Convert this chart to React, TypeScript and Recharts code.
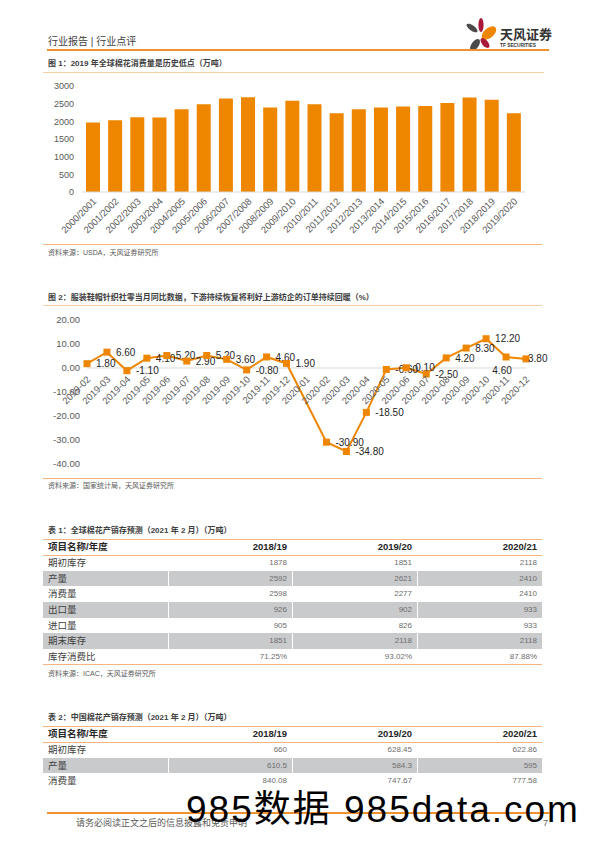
import React from 'react';
import { BarChart, Bar, LineChart, Line, XAxis, YAxis, ReferenceLine } from 'recharts';

const FONT = "'Liberation Sans', 'Noto Sans CJK SC', sans-serif";
const ORANGE = '#EE8600';
const RULE = '#F5B482';

// 图1 全球棉花消费量（万吨）
const seasons = [
  '2000/2001', '2001/2002', '2002/2003', '2003/2004', '2004/2005', '2005/2006', '2006/2007',
  '2007/2008', '2008/2009', '2009/2010', '2010/2011', '2011/2012', '2012/2013', '2013/2014',
  '2014/2015', '2015/2016', '2016/2017', '2017/2018', '2018/2019', '2019/2020',
];
const consumption = [
  1966, 2031, 2116, 2107, 2342, 2483, 2643, 2680, 2389, 2586,
  2483, 2229, 2342, 2389, 2417, 2436, 2520, 2671, 2614, 2229,
];
const barTicks = [0, 500, 1000, 1500, 2000, 2500, 3000];

// 图2 服装鞋帽针织社零当月同比（%）
const months = [
  '2019-02', '2019-03', '2019-04', '2019-05', '2019-06', '2019-07', '2019-08', '2019-09',
  '2019-10', '2019-11', '2019-12', '2020-01', '2020-02', '2020-03', '2020-04', '2020-05',
  '2020-06', '2020-07', '2020-08', '2020-09', '2020-10', '2020-11', '2020-12',
];
const yoy: (number | null)[] = [
  1.8, 6.6, -1.1, 4.1, 5.2, 2.9, 5.2, 3.6, -0.8, 4.6, 1.9, null,
  -30.9, -34.8, -18.5, -0.6, 0.1, -2.5, 4.2, 8.3, 12.2, 4.6, 3.8,
];
const lineTicks = [-40, -30, -20, -10, 0, 10, 20];

// 表1 / 表2
const tableYears = ['2018/19', '2019/20', '2020/21'];
const globalItems = ['期初库存', '产量', '消费量', '出口量', '进口量', '期末库存', '库存消费比'];
const global1819 = ['1878', '2592', '2598', '926', '905', '1851', '71.25%'];
const global1920 = ['1851', '2621', '2277', '902', '826', '2118', '93.02%'];
const global2021 = ['2118', '2410', '2410', '933', '933', '2118', '87.88%'];
const chinaItems = ['期初库存', '产量', '消费量'];
const china1819 = ['660', '610.5', '840.08'];
const china1920 = ['628.45', '584.3', '747.67'];
const china2021 = ['622.86', '595', '777.58'];

const barData = seasons.map((s, i) => ({ season: s, value: consumption[i] }));
const lineData = months.map((m, i) => ({ month: m, value: yoy[i] }));

// line chart geometry (x axis labels sit on the zero line)
const LINE_TOP = 10;
const LINE_H = 164;
const LINE_XAXIS_H = 10;
const LINE_PLOT_H = LINE_H - LINE_TOP - LINE_XAXIS_H;
const Y_MIN = -40;
const Y_MAX = 20;
const ZERO_FROM_BOTTOM = (LINE_PLOT_H * (0 - Y_MIN)) / (Y_MAX - Y_MIN);

function T({ x, y, size, color = '#404040', bold = false, h = 14, children, style }: any) {
  return (
    <div
      style={{
        position: 'absolute',
        left: x,
        top: y - h / 2,
        height: h,
        lineHeight: `${h}px`,
        fontSize: size,
        color,
        fontWeight: bold ? 'bold' : 'normal',
        whiteSpace: 'nowrap',
        fontFamily: FONT,
        ...style,
      }}
    >
      {children}
    </div>
  );
}

function Rule({ x1, x2, y, color = RULE, w = 1 }: any) {
  return <div style={{ position: 'absolute', left: x1, top: y - w / 2, width: x2 - x1, height: w, background: color }} />;
}

const BarTick = ({ x, y, payload }: any) => (
  <text
    transform={`translate(${x + 4},${y + 10}) rotate(-45)`}
    textAnchor="end"
    fontSize={9.5}
    fill="#595959"
    fontFamily={FONT}
  >
    {payload.value}
  </text>
);

const LineTick = ({ x, y, payload }: any) => (
  <text
    transform={`translate(${x + 4},${y - ZERO_FROM_BOTTOM + 12}) rotate(-45)`}
    textAnchor="end"
    fontSize={9.5}
    fill="#595959"
    fontFamily={FONT}
  >
    {payload.value}
  </text>
);

const SquareDot = (props: any) => {
  const { cx, cy, index, value } = props;
  if (value == null || cy == null || isNaN(cy)) return <g key={`dot-${index}`} />;
  // label placement: most sit to the right, a couple were nudged in the original
  let lx = cx + 9;
  let ly = cy;
  let anchor: 'start' | 'middle' = 'start';
  if (months[index] === '2020-11') {
    lx = cx - 4;
    ly = cy + 13;
    anchor = 'middle';
  } else if (months[index] === '2020-12') {
    lx = cx + 2;
  }
  return (
    <g key={`dot-${index}`}>
      <rect x={cx - 3.5} y={cy - 3.5} width={7} height={7} fill={ORANGE} />
      <text x={lx} y={ly} dy="0.36em" textAnchor={anchor} fontSize={10} fill="#262626" fontFamily={FONT}>
        {Number(value).toFixed(2)}
      </text>
    </g>
  );
};

function DataTable({ top, items, c1, c2, c3, bottomRule }: any) {
  const rowH = 15.67;
  const cols = [c1, c2, c3];
  const colEnds = [287, 412, 537];
  return (
    <>
      <Rule x1={43} x2={542} y={top} />
      <T x={48} y={top + 8.3} size={9.5} bold color="#262626">项目名称/年度</T>
      {tableYears.map((yr, j) => (
        <T key={yr} x={colEnds[j] - 60} y={top + 8.3} size={9.5} bold color="#262626" style={{ width: 60, textAlign: 'right' }}>
          {yr}
        </T>
      ))}
      <Rule x1={43} x2={542} y={top + 16} />
      {items.map((it: string, i: number) => {
        const rTop = top + 16 + i * rowH;
        const cy = rTop + rowH / 2;
        return (
          <React.Fragment key={it + i}>
            {i % 2 === 1 && (
              <>
                <div style={{ position: 'absolute', left: 43, top: rTop, width: 125, height: rowH, background: '#C9CACC' }} />
                <div style={{ position: 'absolute', left: 169, top: rTop, width: 123, height: rowH, background: '#C9CACC' }} />
                <div style={{ position: 'absolute', left: 293, top: rTop, width: 124, height: rowH, background: '#C9CACC' }} />
                <div style={{ position: 'absolute', left: 418, top: rTop, width: 124, height: rowH, background: '#C9CACC' }} />
              </>
            )}
            <T x={48} y={cy} size={9.5} color="#404040">{it}</T>
            {cols.map((c: string[], j: number) => (
              <T key={j} x={colEnds[j] - 80} y={cy} size={8} color="#6E6E6E" style={{ width: 80, textAlign: 'right' }}>
                {c[i]}
              </T>
            ))}
          </React.Fragment>
        );
      })}
      {bottomRule && <Rule x1={43} x2={542} y={top + 16 + items.length * rowH} />}
    </>
  );
}

function Logo() {
  return (
    <>
      <svg width={40} height={40} style={{ position: 'absolute', left: 462, top: 16 }}>
        <ellipse cx={10} cy={12} rx={2.6} ry={6.5} transform="rotate(-55 10 12)" fill="#4A4A4A" />
        <ellipse cx={19} cy={9} rx={2.6} ry={7} fill="#A8193A" />
        <ellipse cx={27} cy={17} rx={5} ry={8.5} transform="rotate(50 27 17)" fill={ORANGE} />
        <ellipse cx={13} cy={29} rx={3.6} ry={7} transform="rotate(35 13 29)" fill="#4A4A4A" />
        <ellipse cx={23} cy={27} rx={3} ry={6} transform="rotate(-40 23 27)" fill="#A8193A" />
      </svg>
      <T x={500} y={35} size={13} bold color="#333333" h={16}>天风证券</T>
      <T x={500} y={46} size={4.8} bold color="#333333" h={6}>TF SECURITIES</T>
    </>
  );
}

export default function App() {
  return (
    <div style={{ position: 'relative', width: 596, height: 842, overflow: 'hidden', background: '#fff', fontFamily: FONT }}>
      <style>{'body{margin:0}'}</style>

      <T x={48} y={41.5} size={10} color="#404040">行业报告 | 行业点评</T>
      <Logo />
      <Rule x1={47} x2={549} y={49.5} color="#F0912F" w={2} />

      <T x={48} y={64.3} size={8} bold color="#404040">图 1：2019 年全球棉花消费量是历史低点（万吨）</T>
      <Rule x1={43} x2={544} y={72} color="#F9CFA6" />

      <div style={{ position: 'absolute', left: 0, top: 76 }}>
        <BarChart width={596} height={160} data={barData} margin={{ top: 10, right: 71, bottom: 0, left: 0 }}>
          <XAxis
            dataKey="season"
            interval={0}
            height={44}
            tickSize={0}
            tickMargin={0}
            tickLine={false}
            axisLine={{ stroke: '#D9D9D9' }}
            tick={<BarTick />}
          />
          <YAxis
            width={82}
            domain={[0, 3000]}
            ticks={barTicks}
            tickSize={0}
            tickMargin={8}
            axisLine={false}
            tickLine={false}
            tick={{ fontSize: 9, fill: '#595959', fontFamily: FONT }}
          />
          <Bar dataKey="value" fill={ORANGE} barSize={14} isAnimationActive={false} />
        </BarChart>
      </div>

      <Rule x1={43} x2={542} y={244} />
      <T x={48} y={252.5} size={7} color="#595959">资料来源：USDA，天风证券研究所</T>

      <T x={48} y={298} size={8} bold color="#404040">
        图 2：服装鞋帽针织社零当月同比数据，下游持续恢复将利好上游纺企的订单持续回暖（%）
      </T>
      <Rule x1={43} x2={542} y={305} color="#F9CFA6" />

      <div style={{ position: 'absolute', left: 0, top: 310 }}>
        <LineChart width={596} height={LINE_H} data={lineData} margin={{ top: LINE_TOP, right: 70, bottom: 0, left: 0 }}>
          <XAxis
            dataKey="month"
            interval={0}
            height={LINE_XAXIS_H}
            tickSize={0}
            tickMargin={0}
            tickLine={false}
            axisLine={false}
            tick={<LineTick />}
          />
          <YAxis
            width={87}
            domain={[Y_MIN, Y_MAX]}
            ticks={lineTicks}
            tickSize={0}
            tickMargin={7}
            axisLine={false}
            tickLine={false}
            tickFormatter={(v: number) => v.toFixed(2)}
            tick={{ fontSize: 9.5, fill: '#595959', fontFamily: FONT }}
          />
          <ReferenceLine y={0} stroke="#D9D9D9" />
          <Line
            dataKey="value"
            stroke={ORANGE}
            strokeWidth={2}
            connectNulls
            dot={SquareDot}
            activeDot={false}
            isAnimationActive={false}
          />
        </LineChart>
      </div>

      <Rule x1={43} x2={542} y={478} />
      <T x={48} y={486} size={7} color="#595959">资料来源：国家统计局，天风证券研究所</T>

      <T x={48} y={531} size={8} bold color="#404040">表 1：全球棉花产销存预测（2021 年 2 月）（万吨）</T>
      <DataTable top={539} items={globalItems} c1={global1819} c2={global1920} c3={global2021} bottomRule />
      <T x={48} y={673.5} size={7} color="#595959">资料来源：ICAC，天风证券研究所</T>

      <T x={48} y={718.3} size={8} bold color="#404040">表 2：中国棉花产销存预测（2021 年 2 月）（万吨）</T>
      <DataTable top={726} items={chinaItems} c1={china1819} c2={china1920} c3={china2021} />

      <Rule x1={47} x2={549} y={813} color="#F0912F" w={1.5} />
      <T x={76} y={823} size={9} color="#595959">请务必阅读正文之后的信息披露和免责申明</T>
      <T x={543} y={823} size={9} color="#595959">7</T>

      <div
        style={{
          position: 'absolute',
          left: 186,
          top: 792,
          height: 36,
          lineHeight: '36px',
          fontSize: 37,
          letterSpacing: 2,
          color: '#000',
          whiteSpace: 'nowrap',
          fontFamily: FONT,
        }}
      >
        985数据 985data.com
      </div>
    </div>
  );
}
